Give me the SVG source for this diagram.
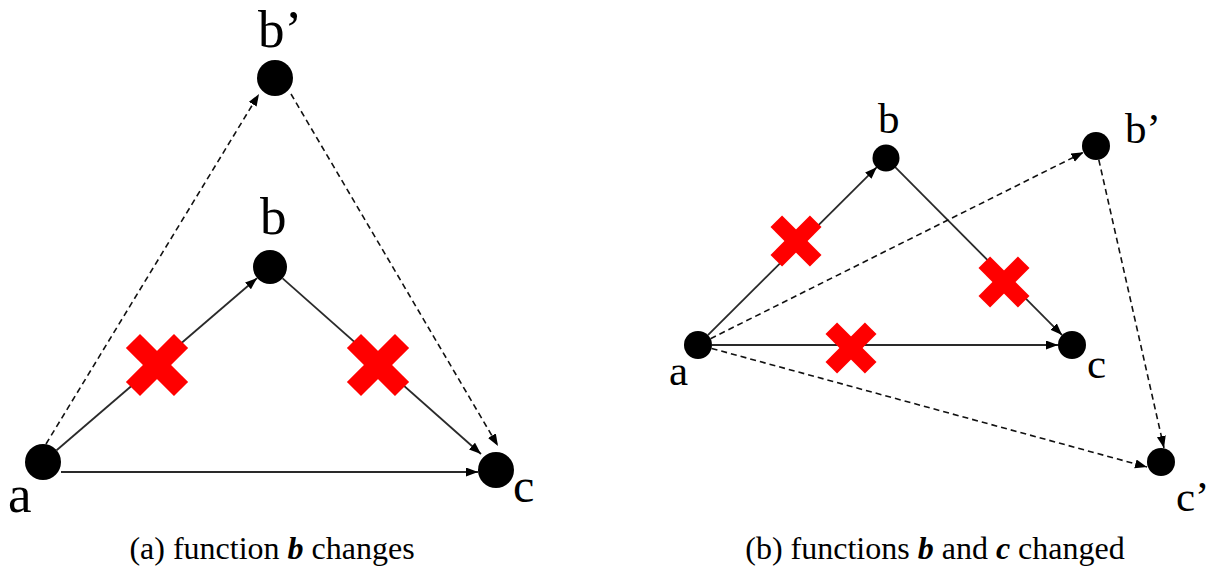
<svg xmlns="http://www.w3.org/2000/svg" xmlns:xlink="http://www.w3.org/1999/xlink" width="1209" height="570" viewBox="0 0 1209 570">
  <style>
    .solid { fill: none; stroke: #2a2a2a; stroke-width: 1.8; }
    .dash { fill: none; stroke: #111; stroke-width: 1.6; stroke-dasharray: 6 4; }
    .node { fill: #000; }
    .lbl { font-family: "Liberation Serif", "Times New Roman", serif; fill: #000; }
    .big { font-size: 53px; }
    .small { font-size: 43px; }
    .cap { font-family: "Liberation Serif", "Times New Roman", serif; font-size: 32px; fill: #000; }
    .bi { font-weight: bold; font-style: italic; }
    .xm { fill: #ff0000; }
  </style>
  <defs>
    <marker id="arr" markerUnits="userSpaceOnUse" markerWidth="14" markerHeight="12" refX="12" refY="4.5" orient="auto">
      <path d="M0,0 L12,4.5 L0,9 z" fill="#000" stroke="none"/>
    </marker>
    <g id="xmark" class="xm">
      <rect x="-34" y="-10" width="68" height="20" transform="rotate(45)"/>
      <rect x="-34" y="-10" width="68" height="20" transform="rotate(-45)"/>
    </g>
  </defs>

  <rect x="0" y="0" width="1209" height="570" fill="#fff"/>

  <g id="connectors">
    <!-- panel (a) -->
    <path class="solid" d="M56.6,450.3 L257.1,278.1" marker-end="url(#arr)"/>
    <path class="solid" d="M282.6,278.4 L481,454" marker-end="url(#arr)"/>
    <path class="solid" d="M61,472 L478,472" marker-end="url(#arr)"/>
    <path class="dash" d="M46,444 L259,94" marker-end="url(#arr)"/>
    <path class="dash" d="M291,94 L498,446" marker-end="url(#arr)"/>
    <!-- panel (b) -->
    <path class="solid" d="M707.9,335.1 L876.8,167.2" marker-end="url(#arr)"/>
    <path class="solid" d="M895.2,167.2 L1062.1,335.1" marker-end="url(#arr)"/>
    <path class="solid" d="M712,345 L1058,345" marker-end="url(#arr)"/>
    <path class="dash" d="M710.5,338.7 L1083.5,152.3" marker-end="url(#arr)"/>
    <path class="dash" d="M1098.8,159.7 L1164,448" marker-end="url(#arr)"/>
    <path class="dash" d="M711.6,348.4 L1147,467" marker-end="url(#arr)"/>
  </g>

  <g id="marks">
    <use xlink:href="#xmark" href="#xmark" transform="translate(157,365)"/>
    <use xlink:href="#xmark" href="#xmark" transform="translate(378,365)"/>
    <use xlink:href="#xmark" href="#xmark" transform="translate(796,241) scale(0.82)"/>
    <use xlink:href="#xmark" href="#xmark" transform="translate(1004,282) scale(0.82)"/>
    <use xlink:href="#xmark" href="#xmark" transform="translate(851,348) scale(0.82)"/>
  </g>

  <!-- panel (a) nodes -->
  <g id="a-node-a">
    <circle class="node" cx="43" cy="462" r="18"/>
    <text class="lbl big" x="8" y="512">a</text>
  </g>
  <g id="a-node-b">
    <circle class="node" cx="270" cy="267" r="17"/>
    <text class="lbl big" x="260" y="234">b</text>
  </g>
  <g id="a-node-bp">
    <circle class="node" cx="275" cy="78" r="18"/>
    <text class="lbl big" x="258" y="47">b’</text>
  </g>
  <g id="a-node-c">
    <circle class="node" cx="496" cy="470" r="18"/>
    <text class="lbl" style="font-size:48px" x="513" y="502">c</text>
  </g>

  <!-- panel (b) nodes -->
  <g id="b-node-a">
    <circle class="node" cx="698" cy="345" r="14"/>
    <text class="lbl small" x="669" y="385">a</text>
  </g>
  <g id="b-node-b">
    <circle class="node" cx="886" cy="158" r="13.5"/>
    <text class="lbl small" x="878" y="133">b</text>
  </g>
  <g id="b-node-bp">
    <circle class="node" cx="1096" cy="146" r="14"/>
    <text class="lbl small" x="1125" y="143">b’</text>
  </g>
  <g id="b-node-c">
    <circle class="node" cx="1072" cy="345" r="14"/>
    <text class="lbl small" x="1087" y="378">c</text>
  </g>
  <g id="b-node-cp">
    <circle class="node" cx="1161" cy="462" r="14"/>
    <text class="lbl small" x="1176" y="511">c’</text>
  </g>

  <g id="captions">
    <text class="cap" x="272" y="559" text-anchor="middle">(a) function <tspan class="bi">b</tspan> changes</text>
    <text class="cap" x="935" y="559" text-anchor="middle">(b) functions <tspan class="bi">b</tspan> and <tspan class="bi">c</tspan> changed</text>
  </g>
</svg>
